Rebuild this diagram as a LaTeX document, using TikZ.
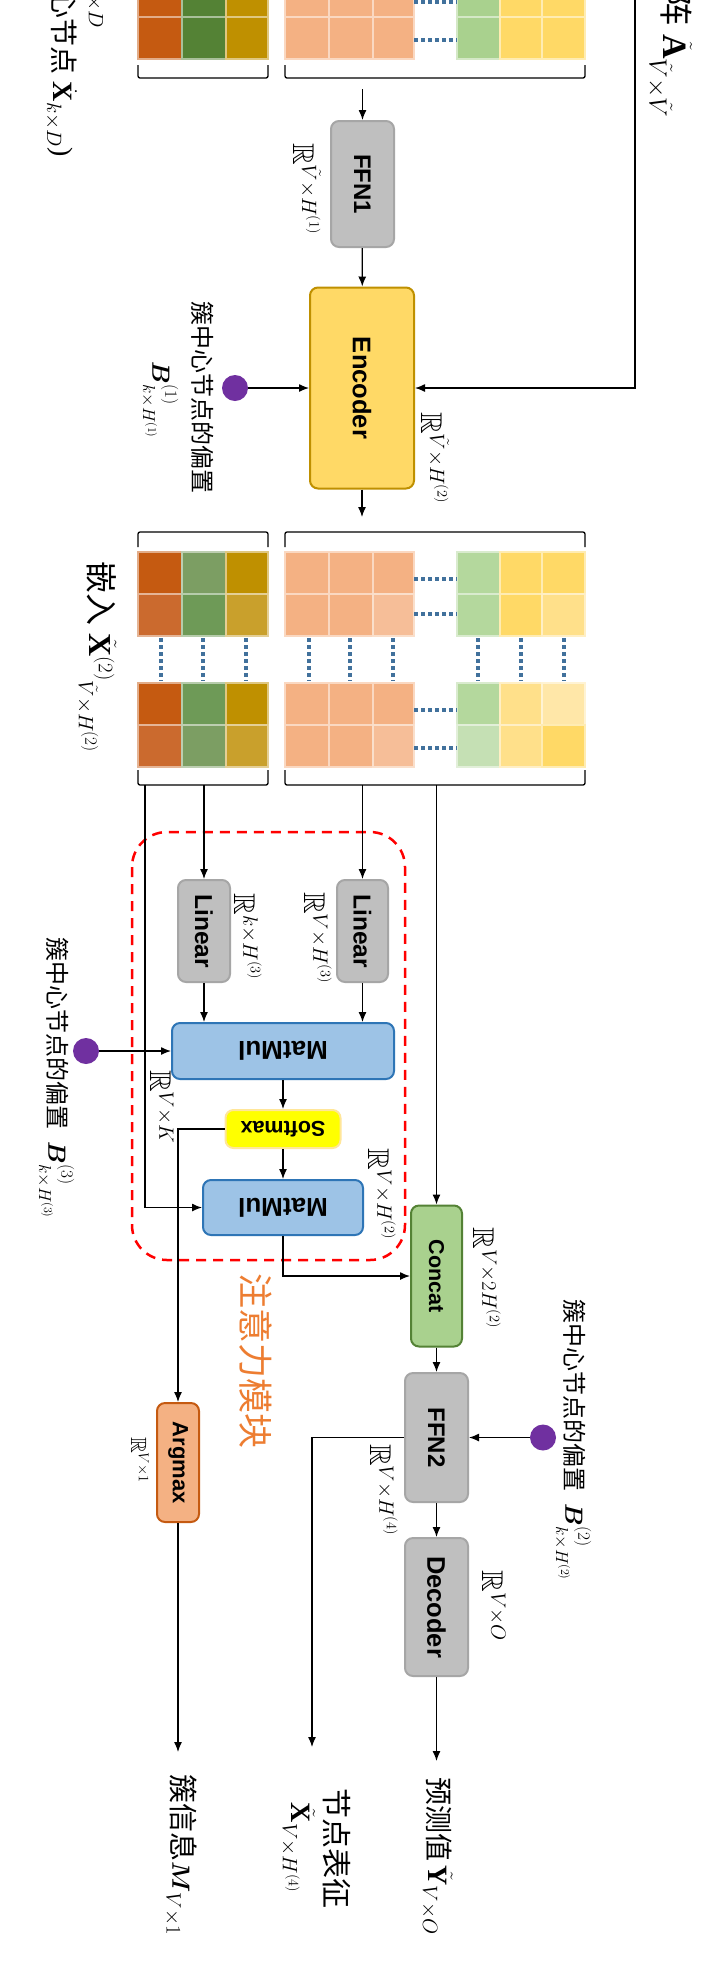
\documentclass[tikz,border=0pt]{standalone}
\usepackage{fontspec}
\usepackage{amsmath,amssymb}
\setmainfont{Liberation Serif}
\newfontfamily\cjk{Noto Sans CJK SC}
\newfontfamily\arialf{Liberation Sans}
\usetikzlibrary{arrows.meta}
\definecolor{cOr}{HTML}{C55A11}
\definecolor{cOrB}{HTML}{CB6A2E}
\definecolor{cGr}{HTML}{548235}
\definecolor{cGrB}{HTML}{7C9E63}
\definecolor{cGrC}{HTML}{6E9A57}
\definecolor{cGo}{HTML}{BF9000}
\definecolor{cGoB}{HTML}{C9A02C}
\definecolor{cSa}{HTML}{F4B183}
\definecolor{cSaB}{HTML}{F6BE98}
\definecolor{cLg}{HTML}{A9D18E}
\definecolor{cLgB}{HTML}{B4D89D}
\definecolor{cLgC}{HTML}{C5E0B4}
\definecolor{cYe}{HTML}{FFD966}
\definecolor{cYeB}{HTML}{FFE08A}
\definecolor{cYeC}{HTML}{FFE7A8}
\definecolor{cBoxG}{HTML}{BFBFBF}
\definecolor{cBoxGd}{HTML}{A6A6A6}
\definecolor{cEncF}{HTML}{FFD966}
\definecolor{cEncD}{HTML}{BF9000}
\definecolor{cBlF}{HTML}{9DC3E6}
\definecolor{cBlD}{HTML}{2E75B6}
\definecolor{cCatF}{HTML}{A9D18E}
\definecolor{cCatD}{HTML}{548235}
\definecolor{cArgF}{HTML}{F4B183}
\definecolor{cArgD}{HTML}{C55A11}
\definecolor{cSmF}{HTML}{FFFF00}
\definecolor{cSmD}{HTML}{FFE699}
\definecolor{cPur}{HTML}{7030A0}
\definecolor{cDot}{HTML}{41719C}
\definecolor{cAtt}{HTML}{ED7D31}
\newcommand\mcell[5]{\filldraw[fill=#5, draw=#5!50!white, line width=2pt] (#1,#2) rectangle (#3,#4);}
\tikzset{
  box/.style={draw, rounded corners=8pt, line width=2pt, inner sep=0pt, font=\arialf\bfseries},
  graybox/.style={box, fill=cBoxG, draw=cBoxGd},
  encbox/.style={box, fill=cEncF, draw=cEncD},
  bluebox/.style={box, fill=cBlF, draw=cBlD},
  smbox/.style={box, fill=cSmF, draw=cSmD},
  catbox/.style={box, fill=cCatF, draw=cCatD},
  argbox/.style={box, fill=cArgF, draw=cArgD},
  arr/.style={-{Latex[length=10pt,width=8pt]}, line width=1.3pt},
  ln/.style={line width=1.3pt},
  brk/.style={line width=1.3pt, rounded corners=2pt},
  lbl/.style={rotate=-90, inner sep=0pt},
  pdot/.style={circle, fill=cPur, minimum size=26pt, inner sep=0pt},
  mdots/.style={draw=cDot, line width=3.5pt, dash pattern=on 3.5pt off 3.5pt},
}
\begin{document}
\begin{tikzpicture}[x=1pt,y=-1pt]
\useasboundingbox (0,0) rectangle (710,1971);
\clip (0,0) rectangle (710,1971);
\fill[white] (0,0) rectangle (710,1971);

% ---------- matrices ----------
\foreach \xa/\xb/\ca/\cb in {138/182/cOr/cOr, 182/226/cGr/cGr, 226/268/cGo/cGo,
  285/329/cSa/cSa, 329/373/cSa/cSa, 373/414/cSa/cSa,
  457/500/cLg/cLg, 500/542/cYe/cYe, 542/585/cYe/cYe}
  {\mcell{\xa}{-25}{\xb}{17}{\ca}\mcell{\xa}{17}{\xb}{59}{\cb}}
\foreach \xa/\xb/\ca/\cb in {138/182/cOr/cOrB, 182/226/cGrB/cGrC, 226/268/cGo/cGoB,
  285/329/cSa/cSa, 329/373/cSa/cSa, 373/414/cSa/cSaB,
  457/500/cLgB/cLgB, 500/542/cYe/cYe, 542/585/cYe/cYeB}
  {\mcell{\xa}{552}{\xb}{594}{\ca}\mcell{\xa}{594}{\xb}{636}{\cb}}
\foreach \xa/\xb/\ca/\cb in {138/182/cOr/cOrB, 182/226/cGrC/cGrB, 226/268/cGo/cGoB,
  285/329/cSa/cSa, 329/373/cSa/cSa, 373/414/cSa/cSaB,
  457/500/cLgB/cLgC, 500/542/cYeB/cYeB, 542/585/cYeC/cYe}
  {\mcell{\xa}{683}{\xb}{725}{\ca}\mcell{\xa}{725}{\xb}{767}{\cb}}
\foreach \yy in {2,40,579,614,710,748} \draw[mdots] (414,\yy) -- (457,\yy);
\foreach \xx in {161,203,246,309,350,393,478,521,564} \draw[mdots] (\xx,638) -- (\xx,681);

% brackets
\draw[brk] (138,65) -- (138,78) -- (268,78) -- (268,65);
\draw[brk] (285,65) -- (285,78) -- (585,78) -- (585,65);
\draw[brk] (138,547) -- (138,532) -- (268,532) -- (268,547);
\draw[brk] (285,547) -- (285,532) -- (585,532) -- (585,547);
\draw[brk] (138,770) -- (138,785) -- (268,785) -- (268,770);
\draw[brk] (285,770) -- (285,785) -- (585,785) -- (585,770);

% attention module frame
\draw[red, line width=2.5pt, dash pattern=on 10pt off 7pt, rounded corners=35pt] (132,832) rectangle (405,1260);

% ---------- boxes ----------
\node[graybox, minimum width=63pt, minimum height=126pt] (ffn1) at (362.5,184) {\fontsize{24}{24}\selectfont\rotatebox{-90}{FFN1}};
\node[encbox, minimum width=104pt, minimum height=201pt] (enc) at (362,388) {\fontsize{25.5}{25}\selectfont\rotatebox{-90}{Encoder}};
\node[graybox, minimum width=52pt, minimum height=102pt] (lin1) at (204,931) {\fontsize{24.5}{24}\selectfont\rotatebox{-90}{Linear}};
\node[graybox, minimum width=51pt, minimum height=102pt] (lin2) at (362.5,931) {\fontsize{24.5}{24}\selectfont\rotatebox{-90}{Linear}};
\node[bluebox, minimum width=222pt, minimum height=56pt] (mm1) at (283,1051) {\fontsize{26}{26}\selectfont\rotatebox{180}{MatMul}};
\node[smbox, minimum width=115pt, minimum height=38pt] (sm) at (283,1129) {\fontsize{21.5}{21}\selectfont\rotatebox{180}{Softmax}};
\node[bluebox, minimum width=160pt, minimum height=55pt] (mm2) at (283,1207.5) {\fontsize{26}{26}\selectfont\rotatebox{180}{MatMul}};
\node[catbox, minimum width=51pt, minimum height=141pt] (cat) at (436.5,1276) {\fontsize{21.5}{21}\selectfont\rotatebox{-90}{Concat}};
\node[graybox, minimum width=63pt, minimum height=129pt] (ffn2) at (436.5,1437.5) {\fontsize{24}{24}\selectfont\rotatebox{-90}{FFN2}};
\node[graybox, minimum width=63pt, minimum height=138pt] (dec) at (436.5,1607) {\fontsize{25.5}{25}\selectfont\rotatebox{-90}{Decoder}};
\node[argbox, minimum width=42pt, minimum height=119pt] (arg) at (178,1462.5) {\fontsize{22}{22}\selectfont\rotatebox{-90}{Argmax}};

\node[pdot] (d1) at (235,388) {};
\node[pdot] (d3) at (86,1051) {};
\node[pdot] (d2) at (543,1437.5) {};

% ---------- connectors ----------
\coordinate (a0) at (362.5,89);
\coordinate (a1) at (362,517);
\coordinate (rtop) at (635,-5);
\coordinate (b1) at (145,785);
\coordinate (b2) at (204,785);
\coordinate (b3) at (362.5,785);
\coordinate (b4) at (436.5,785);
\coordinate (o1) at (178,1752);
\coordinate (o2) at (312,1747);
\coordinate (o3) at (436.5,1761);

\draw[arr] (a0) -- (ffn1.north);
\draw[arr] (ffn1) -- (enc);
\draw[arr] (d1) -- (enc.west);
\draw[arr] (rtop) |- (enc.east);
\draw[arr] (enc.south) -- (a1);
\draw[arr] (b2) -- (lin1.north);
\draw[arr] (b3) -- (lin2.north);
\draw[arr] (b1) |- (mm2.west);
\draw[arr] (b4) -- (cat.north);
\draw[arr] (lin1.south) -- (lin1.south |- mm1.north);
\draw[arr] (lin2.south) -- (lin2.south |- mm1.north);
\draw[arr] (d3) -- (mm1.west);
\draw[arr] (mm1) -- (sm);
\draw[arr] (sm) -- (mm2);
\draw[arr] (sm.west) -| (arg.north);
\draw[arr] (mm2.south) |- (cat.west);
\draw[arr] (cat) -- (ffn2);
\draw[arr] (d2) -- (ffn2.east);
\draw[arr] (ffn2.west) -| (o2);
\draw[arr] (ffn2) -- (dec);
\draw[arr] (dec) -- (o3);
\draw[arr] (arg) -- (o1);

% ---------- labels ----------
\node[lbl, font=\fontsize{30}{34}\selectfont] (r1) at (307,189) {$\mathbb{R}^{\tilde V\times H^{(1)}}$};
\node[lbl, font=\fontsize{30}{34}\selectfont] (r2) at (435,458) {$\mathbb{R}^{\tilde V\times H^{(2)}}$};
\node[lbl, font=\fontsize{30}{34}\selectfont] (r3) at (248,937) {$\mathbb{R}^{k\times H^{(3)}}$};
\node[lbl, font=\fontsize{30}{34}\selectfont] (r4) at (318,938) {$\mathbb{R}^{V\times H^{(3)}}$};
\node[lbl, font=\fontsize{30}{34}\selectfont] (r5) at (162,1107) {$\mathbb{R}^{V\times K}$};
\node[lbl, font=\fontsize{30}{34}\selectfont] (r6) at (382,1194) {$\mathbb{R}^{V\times H^{(2)}}$};
\node[lbl, font=\fontsize{30}{34}\selectfont] (r7) at (487,1278) {$\mathbb{R}^{V\times 2H^{(2)}}$};
\node[lbl, font=\fontsize{30}{34}\selectfont] (r8) at (384,1490) {$\mathbb{R}^{V\times H^{(4)}}$};
\node[lbl, font=\fontsize{22}{26}\selectfont] (r9) at (140,1460) {$\mathbb{R}^{V\times 1}$};
\node[lbl, font=\fontsize{30}{34}\selectfont] (r10) at (494,1606) {$\mathbb{R}^{V\times O}$};

\node[lbl, font=\cjk\fontsize{24}{28}\selectfont] (c1) at (203,397) {簇中心节点的偏置};
\node[lbl, font=\fontsize{24}{28}\selectfont] (m1) at (160,400) {$\boldsymbol{B}^{(1)}_{k\times H^{(1)}}$};
\node[lbl, font=\fontsize{24}{28}\selectfont] (c3) at (56,1078) {{\cjk 簇中心节点的偏置}\hspace{12pt}$\boldsymbol{B}^{(3)}_{k\times H^{(3)}}$};
\node[lbl, font=\fontsize{24}{28}\selectfont] (c2) at (573,1440) {{\cjk 簇中心节点的偏置}\hspace{12pt}$\boldsymbol{B}^{(2)}_{k\times H^{(2)}}$};

\node[lbl, font=\fontsize{32}{36}\selectfont] (emb) at (97,657) {{\cjk 嵌入} $\tilde{\mathbf{X}}^{(2)}{}_{\tilde V\times H^{(2)}}$};
\node[lbl, font=\fontsize{34}{38}\selectfont, anchor=east] (adj) at (670,118) {{\cjk 阵} $\tilde{\mathbf{A}}_{\tilde V\times\tilde V}$};
\node[lbl, font=\fontsize{28}{32}\selectfont, anchor=base east] (xin) at (53,157) {{\cjk 心节点} $\dot{\mathbf{X}}_{k\times D}$)};
\node[lbl, font=\fontsize{22}{26}\selectfont, anchor=east] (xsz) at (95,28) {$\times D$};

\node[lbl, font=\cjk\fontsize{35}{40}\selectfont, text=cAtt] (att) at (256,1361) {注意力模块};

\node[lbl, font=\fontsize{28}{32}\selectfont] (y1) at (437,1856) {{\cjk 预测值}\,$\tilde{\mathbf{Y}}_{V\times O}$};
\node[lbl, font=\cjk\fontsize{30}{34}\selectfont] (y2a) at (337,1848) {节点表征};
\node[lbl, font=\fontsize{28}{32}\selectfont] (y2b) at (298,1848) {$\tilde{\mathbf{X}}_{V\times H^{(4)}}$};
\node[lbl, font=\fontsize{29}{32}\selectfont] (y3) at (181,1855) {{\cjk 簇信息}$\boldsymbol{M}_{V\times 1}$};
\end{tikzpicture}
\end{document}
